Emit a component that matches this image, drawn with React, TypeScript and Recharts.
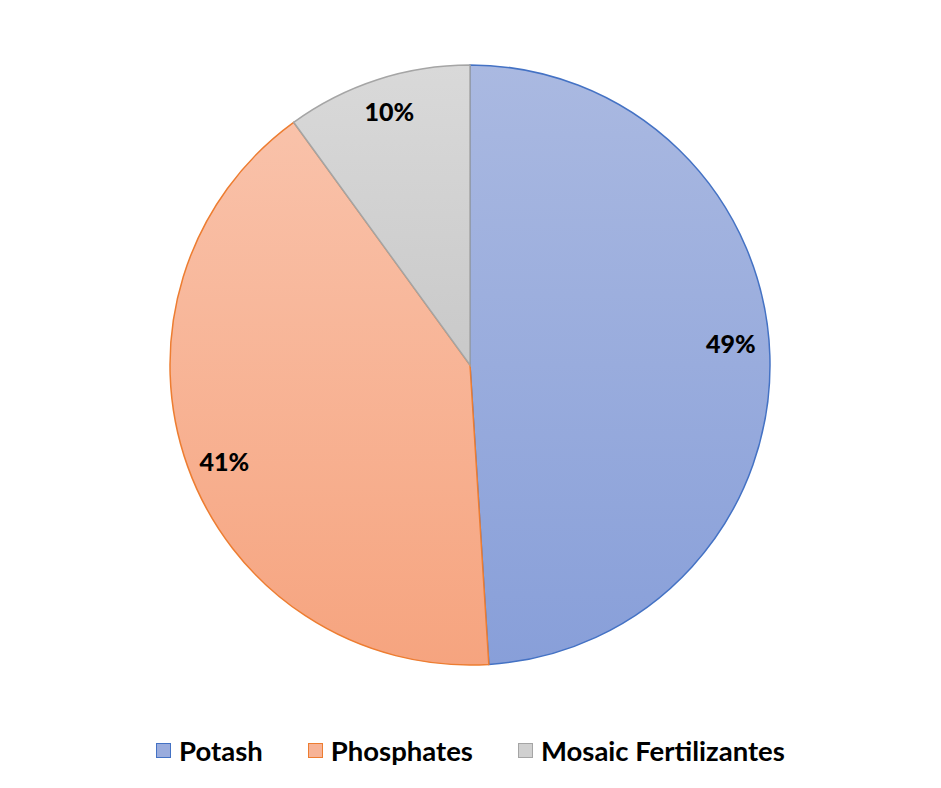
import React from "react";
import { PieChart, Pie, Cell, Legend } from "recharts";

const categories = ["Potash", "Phosphates", "Mosaic Fertilizantes"];
const shares = [49, 41, 10];
const labels = ["49%", "41%", "10%"];

const strokes = ["#4472C4", "#ED7D31", "#A5A5A5"];
const gradients = [
  ["#AAB9E1", "#889FD9"],
  ["#F9C2AA", "#F6A47F"],
  ["#D9D9D9", "#C9C9C9"],
];
const swatches = ["#9AACDD", "#F7B396", "#D0D0D0"];
// small vertical nudges so labels sit where the original "best fit" put them
const labelNudge = [-14, 8, -6];

const data = categories.map((name, i) => ({ name, value: shares[i], label: labels[i] }));

const FONT = "Lato, 'Noto Sans', sans-serif";
const RADIAN = Math.PI / 180;

const renderLabel = (props: any) => {
  const { cx, cy, midAngle, outerRadius, index } = props;
  const r = outerRadius * 0.87;
  const x = cx + r * Math.cos(-midAngle * RADIAN);
  const y = cy + r * Math.sin(-midAngle * RADIAN) + labelNudge[index];
  return (
    <text
      x={x}
      y={y}
      textAnchor="middle"
      dominantBaseline="central"
      fontFamily={FONT}
      fontWeight={900}
      fontSize={25}
      fill="#000"
    >
      {data[index].label}
    </text>
  );
};

const renderLegend = () => (
  <div
    style={{
      display: "flex",
      justifyContent: "center",
      alignItems: "center",
      gap: 45,
      fontFamily: FONT,
      fontWeight: 700,
      fontSize: 27.5,
      color: "#000",
    }}
  >
    {categories.map((name, i) => (
      <div key={name} style={{ display: "flex", alignItems: "center" }}>
        <span
          style={{
            display: "inline-block",
            width: 13,
            height: 13,
            background: swatches[i],
            border: `1.5px solid ${strokes[i]}`,
            marginRight: 8,
          }}
        />
        <span>{name}</span>
      </div>
    ))}
  </div>
);

export default function App() {
  return (
    <div style={{ position: "absolute", left: 0, top: 0, background: "#fff" }}>
      <PieChart width={941} height={788} margin={{ top: 0, right: 0, bottom: 0, left: 0 }}>
        <defs>
          {gradients.map((g, i) => (
            <linearGradient key={i} id={`grad-${i}`} x1="0" y1="0" x2="0" y2="1">
              <stop offset="0%" stopColor={g[0]} />
              <stop offset="100%" stopColor={g[1]} />
            </linearGradient>
          ))}
        </defs>
        <Pie
          data={data}
          dataKey="value"
          nameKey="name"
          cx={470}
          cy={365}
          outerRadius={300}
          startAngle={90}
          endAngle={-270}
          label={renderLabel}
          labelLine={false}
          isAnimationActive={false}
        >
          {data.map((_, i) => (
            <Cell key={i} fill={`url(#grad-${i})`} stroke={strokes[i]} strokeWidth={1.5} />
          ))}
        </Pie>
        <Legend
          content={renderLegend}
          verticalAlign="bottom"
          wrapperStyle={{ top: 734, left: 0, width: 941 }}
        />
      </PieChart>
    </div>
  );
}
